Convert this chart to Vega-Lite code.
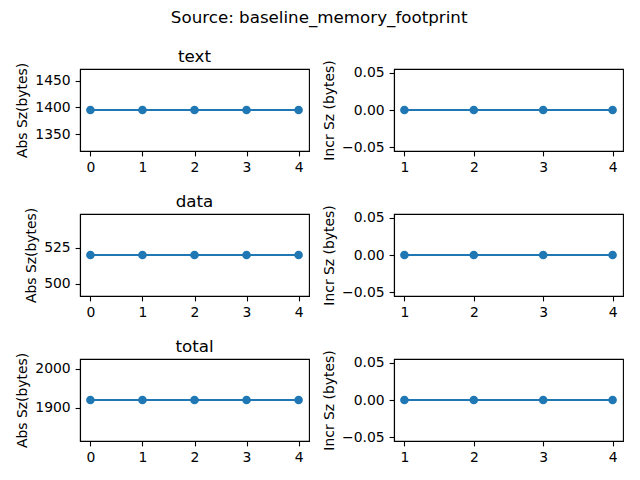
{
  "$schema": "https://vega.github.io/schema/vega-lite/v6.json",
  "background": "white",
  "padding": {"left": 14, "top": 10, "right": 15, "bottom": 5},
  "title": {"text": "Source: baseline_memory_footprint", "anchor": "middle", "frame": "bounds", "fontSize": 16.7, "fontWeight": "normal", "font": "DejaVu Sans", "color": "black", "offset": 21},
  "datasets": {
    "abs": [
      {"section": "text", "run": 0, "size": 1395},
      {"section": "text", "run": 1, "size": 1395},
      {"section": "text", "run": 2, "size": 1395},
      {"section": "text", "run": 3, "size": 1395},
      {"section": "text", "run": 4, "size": 1395},
      {"section": "data", "run": 0, "size": 520},
      {"section": "data", "run": 1, "size": 520},
      {"section": "data", "run": 2, "size": 520},
      {"section": "data", "run": 3, "size": 520},
      {"section": "data", "run": 4, "size": 520},
      {"section": "total", "run": 0, "size": 1920},
      {"section": "total", "run": 1, "size": 1920},
      {"section": "total", "run": 2, "size": 1920},
      {"section": "total", "run": 3, "size": 1920},
      {"section": "total", "run": 4, "size": 1920}
    ],
    "incr": [
      {"section": "text", "run": 1, "delta": 0},
      {"section": "text", "run": 2, "delta": 0},
      {"section": "text", "run": 3, "delta": 0},
      {"section": "text", "run": 4, "delta": 0},
      {"section": "data", "run": 1, "delta": 0},
      {"section": "data", "run": 2, "delta": 0},
      {"section": "data", "run": 3, "delta": 0},
      {"section": "data", "run": 4, "delta": 0},
      {"section": "total", "run": 1, "delta": 0},
      {"section": "total", "run": 2, "delta": 0},
      {"section": "total", "run": 3, "delta": 0},
      {"section": "total", "run": 4, "delta": 0}
    ]
  },
  "config": {
    "font": "DejaVu Sans",
    "view": {"stroke": "black", "strokeWidth": 1.1},
    "axis": {"grid": false, "domainColor": "black", "domainWidth": 1.1, "tickColor": "black", "tickWidth": 1.1, "labelColor": "black", "titleColor": "black", "labelFontSize": 13.9, "titleFontSize": 13.9, "titleFontWeight": "normal", "tickSize": 4.9, "labelPadding": 4.9, "labelFont": "DejaVu Sans", "titleFont": "DejaVu Sans", "titlePadding": 5.6},
    "title": {"fontSize": 16.7, "fontWeight": "normal", "font": "DejaVu Sans", "color": "black", "offset": -3}
  },
  "columns": 2,
  "spacing": {"row": 17, "column": 11},
  "concat": [
    {
      "width": 229, "height": 82,
      "title": {"text": "text", "frame": "group"},
      "data": {"name": "abs"},
      "transform": [{"filter": "datum.section === 'text'"}],
      "encoding": {
        "x": {"field": "run", "type": "quantitative", "scale": {"domain": [-0.2, 4.2], "nice": false, "zero": false}, "axis": {"values": [0, 1, 2, 3, 4], "title": null, "format": "d"}},
        "y": {"field": "size", "type": "quantitative", "scale": {"domain": [1318.3, 1471.7], "nice": false, "zero": false}, "axis": {"values": [1350, 1400, 1450], "title": "Abs Sz(bytes)", "format": "d"}}
      },
      "layer": [
        {"mark": {"type": "line", "color": "#1f77b4", "strokeWidth": 2.1}},
        {"mark": {"type": "point", "filled": true, "opacity": 1, "size": 74, "color": "#1f77b4"}}
      ]
    },
    {
      "width": 229, "height": 82,
      "data": {"name": "incr"},
      "transform": [{"filter": "datum.section === 'text'"}],
      "encoding": {
        "x": {"field": "run", "type": "quantitative", "scale": {"domain": [0.85, 4.15], "nice": false, "zero": false}, "axis": {"values": [1, 2, 3, 4], "title": null, "format": "d"}},
        "y": {"field": "delta", "type": "quantitative", "scale": {"domain": [-0.055, 0.055], "nice": false, "zero": false}, "axis": {"values": [-0.05, 0, 0.05], "title": "Incr Sz (bytes)", "format": ".2f"}}
      },
      "layer": [
        {"mark": {"type": "line", "color": "#1f77b4", "strokeWidth": 2.1}},
        {"mark": {"type": "point", "filled": true, "opacity": 1, "size": 74, "color": "#1f77b4"}}
      ]
    },
    {
      "width": 229, "height": 82,
      "title": {"text": "data", "frame": "group"},
      "data": {"name": "abs"},
      "transform": [{"filter": "datum.section === 'data'"}],
      "encoding": {
        "x": {"field": "run", "type": "quantitative", "scale": {"domain": [-0.2, 4.2], "nice": false, "zero": false}, "axis": {"values": [0, 1, 2, 3, 4], "title": null, "format": "d"}},
        "y": {"field": "size", "type": "quantitative", "scale": {"domain": [491.4, 548.6], "nice": false, "zero": false}, "axis": {"values": [500, 525], "title": "Abs Sz(bytes)", "format": "d"}}
      },
      "layer": [
        {"mark": {"type": "line", "color": "#1f77b4", "strokeWidth": 2.1}},
        {"mark": {"type": "point", "filled": true, "opacity": 1, "size": 74, "color": "#1f77b4"}}
      ]
    },
    {
      "width": 229, "height": 82,
      "data": {"name": "incr"},
      "transform": [{"filter": "datum.section === 'data'"}],
      "encoding": {
        "x": {"field": "run", "type": "quantitative", "scale": {"domain": [0.85, 4.15], "nice": false, "zero": false}, "axis": {"values": [1, 2, 3, 4], "title": null, "format": "d"}},
        "y": {"field": "delta", "type": "quantitative", "scale": {"domain": [-0.055, 0.055], "nice": false, "zero": false}, "axis": {"values": [-0.05, 0, 0.05], "title": "Incr Sz (bytes)", "format": ".2f"}}
      },
      "layer": [
        {"mark": {"type": "line", "color": "#1f77b4", "strokeWidth": 2.1}},
        {"mark": {"type": "point", "filled": true, "opacity": 1, "size": 74, "color": "#1f77b4"}}
      ]
    },
    {
      "width": 229, "height": 82,
      "title": {"text": "total", "frame": "group"},
      "data": {"name": "abs"},
      "transform": [{"filter": "datum.section === 'total'"}],
      "encoding": {
        "x": {"field": "run", "type": "quantitative", "scale": {"domain": [-0.2, 4.2], "nice": false, "zero": false}, "axis": {"values": [0, 1, 2, 3, 4], "title": null, "format": "d"}},
        "y": {"field": "size", "type": "quantitative", "scale": {"domain": [1814.4, 2025.6], "nice": false, "zero": false}, "axis": {"values": [1900, 2000], "title": "Abs Sz(bytes)", "format": "d"}}
      },
      "layer": [
        {"mark": {"type": "line", "color": "#1f77b4", "strokeWidth": 2.1}},
        {"mark": {"type": "point", "filled": true, "opacity": 1, "size": 74, "color": "#1f77b4"}}
      ]
    },
    {
      "width": 229, "height": 82,
      "data": {"name": "incr"},
      "transform": [{"filter": "datum.section === 'total'"}],
      "encoding": {
        "x": {"field": "run", "type": "quantitative", "scale": {"domain": [0.85, 4.15], "nice": false, "zero": false}, "axis": {"values": [1, 2, 3, 4], "title": null, "format": "d"}},
        "y": {"field": "delta", "type": "quantitative", "scale": {"domain": [-0.055, 0.055], "nice": false, "zero": false}, "axis": {"values": [-0.05, 0, 0.05], "title": "Incr Sz (bytes)", "format": ".2f"}}
      },
      "layer": [
        {"mark": {"type": "line", "color": "#1f77b4", "strokeWidth": 2.1}},
        {"mark": {"type": "point", "filled": true, "opacity": 1, "size": 74, "color": "#1f77b4"}}
      ]
    }
  ]
}
